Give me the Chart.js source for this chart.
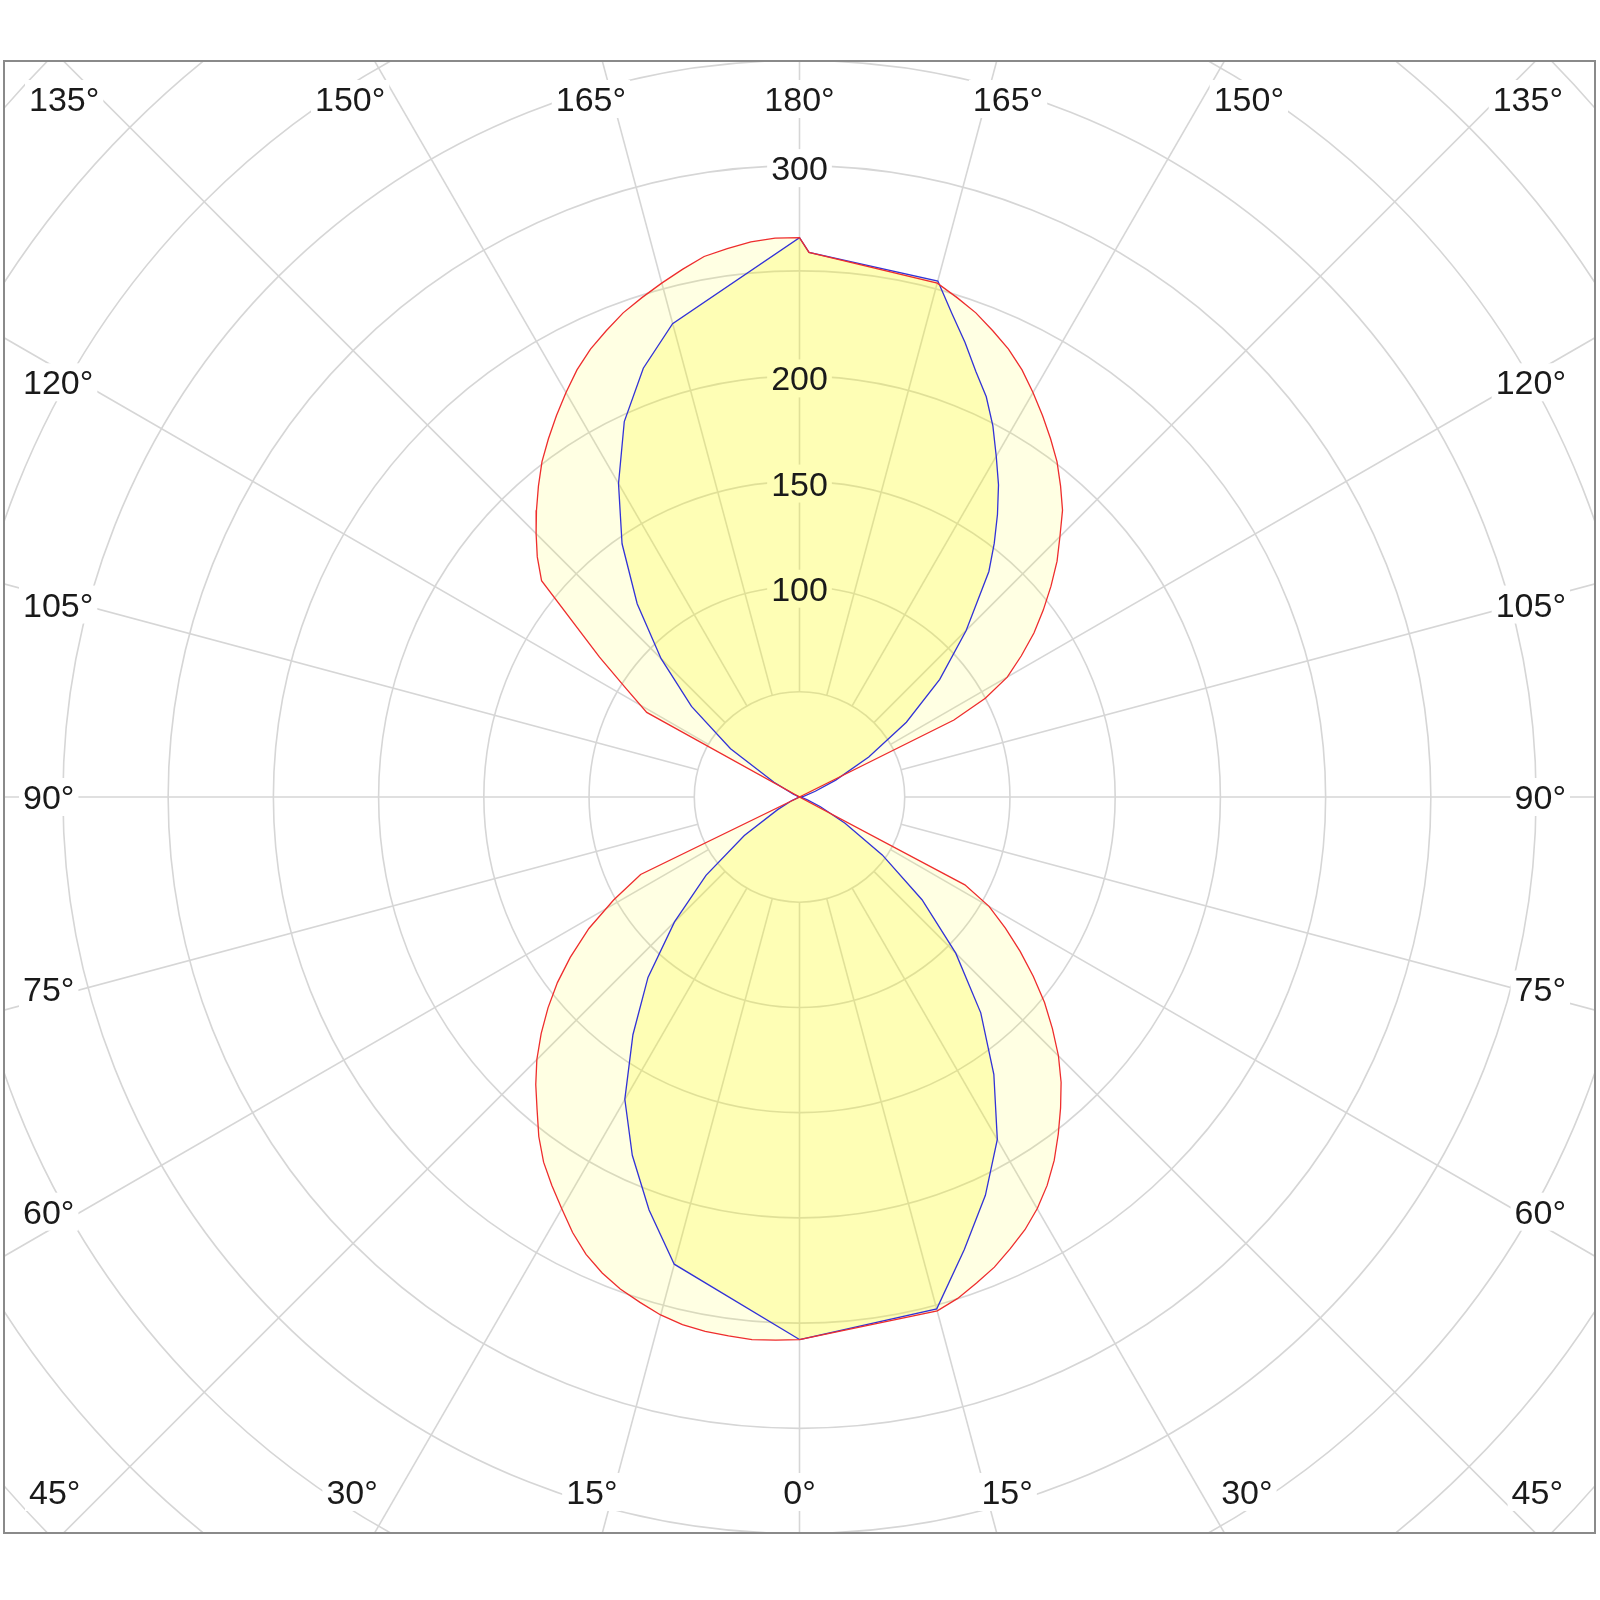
<!DOCTYPE html>
<html>
<head>
<meta charset="utf-8">
<title>Luminous intensity diagram</title>
<script src="https://cdn.jsdelivr.net/npm/chart.js@4.4.1/dist/chart.umd.min.js"></script>
<style>
  html, body { margin: 0; padding: 0; background: #fff; }
  #wrap { width: 1600px; height: 1600px; }
</style>
</head>
<body>
<div id="wrap"><canvas id="polar" width="1600" height="1600"></canvas></div>
<script>
// gamma angle: 0 = straight down, 180 = straight up; values in cd
// red curve (C0 right / C180 left)
const redRightAngles = [0, 15, 17.5, 20, 22.5, 25, 27.5, 30, 32.5, 35, 37.5, 40, 42.5, 45, 47.5, 50, 52.5, 55, 57.5, 60, 62, 90,
  116.5, 118, 120, 122.5, 125, 127.5, 130, 132.5, 135, 137.5, 140, 142.5, 145, 147.5, 150, 152.5, 155, 157.5, 160, 162.5, 165, 179, 180];
const redRightValues = [258, 253, 250, 246, 242, 237, 232, 226, 219, 211, 202, 193, 184, 174, 163, 152, 140, 128, 116, 104, 89, 0,
  82, 100, 114, 125, 136, 146, 156, 166, 175, 185, 193, 201, 208, 215, 222, 229, 235, 240, 245, 249, 253, 259, 266];
const redLeftAngles = [0, 2.5, 5, 7.5, 10, 12.5, 15, 17.5, 20, 22.5, 25, 27.5, 30, 32.5, 35, 37.5, 40, 42.5, 45, 47.5, 50, 52.5, 55, 58, 61, 64, 90,
  119, 122, 125, 130, 132.5, 135, 137.5, 140, 142.5, 145, 147.5, 150, 152.5, 155, 157.5, 160, 162.5, 165, 167.5, 170, 172.5, 175, 177.5, 180];
const redLeftValues = [258, 258.5, 259, 258.5, 258, 257, 255, 252, 249, 245, 240, 233.5, 226, 219, 212, 203.5, 194, 185.5, 176.5, 166.5, 156, 145, 133, 118, 101, 84, 0,
  83, 97, 116, 160, 169, 177, 185, 193, 201, 208, 215, 222, 229, 235, 240, 245, 249, 253, 257, 261, 263, 265, 266, 266];

// blue curve (C90 right / C270 left)
const blueRightAngles = [0, 15, 20, 25, 30, 35, 40, 45, 50, 55, 60, 65, 70, 80, 90, 100, 110, 115, 120, 125, 130, 135, 140,
  142.5, 145, 147.5, 150, 152.5, 155, 157.5, 160, 162.5, 165, 179, 180];
const blueRightValues = [258, 252, 229, 209, 188, 161, 134, 105, 76, 48, 25, 11, 4, 1, 0, 2, 8, 19, 38, 62, 87, 112, 140,
  152, 164, 176, 187, 199, 210, 219, 230, 241, 254, 259, 266];
const blueLeftAngles = [0, 15, 20, 25, 30, 35, 40, 45, 50, 55, 60, 65, 90, 115, 120, 125, 130, 135, 140, 145, 150, 155, 160, 165, 180];
const blueLeftValues = [258, 230, 209, 188, 166, 138, 112, 84, 58, 32, 12, 4, 0, 3, 14, 40, 67, 93, 120, 147, 172, 197, 217, 233, 266];

// grid and labels
const ringSteps = [50, 100, 150, 200, 250, 300, 350, 400, 450, 500, 550];
const ringLabels = [100, 150, 200, 300];
const angleLabels = [0, 15, 30, 45, 60, 75, 90, 105, 120, 135, 150, 165, 180];

const gridColor = "#d6d6d6";
const labelFont = "34px 'Liberation Sans', Arial, sans-serif";

function halfPoints(angles, values, side) {
  return angles.map(function (g, i) {
    const a = (g * Math.PI) / 180;
    return { x: side * values[i] * Math.sin(a), y: -values[i] * Math.cos(a) };
  });
}

// right half bottom->top, then left half top->bottom
function closedCurve(rA, rV, lA, lV) {
  return halfPoints(rA, rV, 1).concat(halfPoints(lA, lV, -1).reverse());
}

function labelBox(ctx, text, x, y, align) {
  ctx.font = labelFont;
  const w = ctx.measureText(text).width;
  let left = x - w / 2;
  if (align === "left") left = x;
  if (align === "right") left = x - w;
  ctx.fillStyle = "#fff";
  ctx.fillRect(left - 4, y - 19, w + 8, 38);
}

function labelText(ctx, text, x, y, align) {
  ctx.font = labelFont;
  ctx.fillStyle = "#1a1a1a";
  ctx.textAlign = align;
  ctx.textBaseline = "alphabetic";
  ctx.fillText(text, x, y + 12);
}

function drawLabel(ctx, text, x, y, align) {
  labelBox(ctx, text, x, y, align);
  labelText(ctx, text, x, y, align);
}

function center(chart) {
  const s = chart.scales;
  const cx = s.x.getPixelForValue(0);
  return { cx: cx, cy: s.y.getPixelForValue(0), unit: s.x.getPixelForValue(1) - cx };
}

const polarGrid = {
  id: "polarGrid",
  beforeDatasetsDraw(chart) {
    const { ctx, chartArea: area, scales } = chart;
    const { cx, cy, unit } = center(chart);

    ctx.save();
    ctx.beginPath();
    ctx.rect(area.left, area.top, area.right - area.left, area.bottom - area.top);
    ctx.clip();

    ctx.strokeStyle = gridColor;
    ctx.lineWidth = 1.6;
    ringSteps.forEach(function (r) {
      ctx.beginPath();
      ctx.arc(cx, cy, r * unit, 0, Math.PI * 2);
      ctx.stroke();
    });
    for (let a = 0; a < 360; a += 15) {
      const t = (a * Math.PI) / 180;
      ctx.beginPath();
      ctx.moveTo(cx + Math.sin(t) * 50 * unit, cy + Math.cos(t) * 50 * unit);
      ctx.lineTo(cx + Math.sin(t) * 600 * unit, cy + Math.cos(t) * 600 * unit);
      ctx.stroke();
    }

    // white boxes behind the intensity labels (text goes on top of the fills later)
    ringLabels.forEach(function (v) {
      labelBox(ctx, String(v), cx, scales.y.getPixelForValue(v) + 2, "center");
    });

    // angle labels round the frame
    const topY = area.top + 38;
    const botY = area.bottom - 41;
    const sideDx = cx - area.left - 55;
    angleLabels.forEach(function (g) {
      const text = g + "\u00b0";
      const sides = g === 0 || g === 180 ? [1] : [-1, 1];
      sides.forEach(function (s) {
        const t = (g * Math.PI) / 180;
        if (g <= 30) {
          const dx = (botY - cy) * Math.tan(t) * 1.115;
          drawLabel(ctx, text, cx + s * dx, botY, "center");
        } else if (g >= 150) {
          const dx = (cy - topY) * Math.tan(Math.PI - t) * 1.115;
          drawLabel(ctx, text, cx + s * dx, topY, "center");
        } else if (g === 45 || g === 135) {
          const y = g === 45 ? botY : topY;
          if (s < 0) drawLabel(ctx, text, area.left + 25, y, "left");
          else drawLabel(ctx, text, area.right - 32, y, "right");
        } else {
          const y = cy + 0.97 * sideDx * Math.cos(t) / Math.sin(t);
          if (s < 0) drawLabel(ctx, text, area.left + 19, y, "left");
          else drawLabel(ctx, text, area.right - 29, y, "right");
        }
      });
    });
    ctx.restore();
  },
  afterDatasetsDraw(chart) {
    const { ctx, scales } = chart;
    const { cx } = center(chart);
    ctx.save();
    ringLabels.forEach(function (v) {
      labelText(ctx, String(v), cx, scales.y.getPixelForValue(v) + 2, "center");
    });
    ctx.restore();
  }
};

// fill each closed curve from its own points
const polarFill = {
  id: "polarFill",
  beforeDatasetsDraw(chart) {
    const ctx = chart.ctx;
    const area = chart.chartArea;
    ctx.save();
    ctx.beginPath();
    ctx.rect(area.left, area.top, area.right - area.left, area.bottom - area.top);
    ctx.clip();
    chart.data.datasets.forEach(function (ds, i) {
      const pts = chart.getDatasetMeta(i).data;
      ctx.beginPath();
      pts.forEach(function (p, k) {
        if (k === 0) ctx.moveTo(p.x, p.y);
        else ctx.lineTo(p.x, p.y);
      });
      ctx.closePath();
      ctx.fillStyle = ds.backgroundColor;
      ctx.fill();
    });
    ctx.restore();
  }
};

const frame = {
  id: "frame",
  beforeDraw(chart) {
    const ctx = chart.ctx;
    ctx.save();
    ctx.fillStyle = "#fff";
    ctx.fillRect(0, 0, chart.width, chart.height);
    ctx.restore();
  },
  afterDraw(chart) {
    const { ctx, chartArea: area } = chart;
    ctx.save();
    ctx.strokeStyle = "#8a8a8a";
    ctx.lineWidth = 2;
    ctx.strokeRect(area.left, area.top, area.right - area.left, area.bottom - area.top);
    ctx.restore();
  }
};

const ctx = document.getElementById("polar").getContext("2d");
window.chart = new Chart(ctx, {
  type: "scatter",
  data: {
    datasets: [
      {
        label: "C0 - C180",
        data: closedCurve(redRightAngles, redRightValues, redLeftAngles, redLeftValues),
        showLine: true,
        fill: false,
        tension: 0,
        borderColor: "rgb(238, 45, 45)",
        borderWidth: 1.3,
        backgroundColor: "rgba(255, 255, 0, 0.11)",
        pointRadius: 0
      },
      {
        label: "C90 - C270",
        data: closedCurve(blueRightAngles, blueRightValues, blueLeftAngles, blueLeftValues),
        showLine: true,
        fill: false,
        tension: 0,
        borderColor: "rgb(50, 50, 215)",
        borderWidth: 1.3,
        backgroundColor: "rgba(250, 248, 0, 0.2)",
        pointRadius: 0
      }
    ]
  },
  options: {
    responsive: false,
    animation: false,
    devicePixelRatio: 1,
    layout: { padding: { left: 4, top: 61, right: 5, bottom: 67 } },
    scales: {
      x: { type: "linear", min: -378, max: 378, display: false },
      y: { type: "linear", min: -350, max: 350, display: false }
    },
    plugins: {
      legend: { display: false },
      tooltip: { enabled: false }
    }
  },
  plugins: [polarGrid, polarFill, frame]
});
</script>
</body>
</html>
